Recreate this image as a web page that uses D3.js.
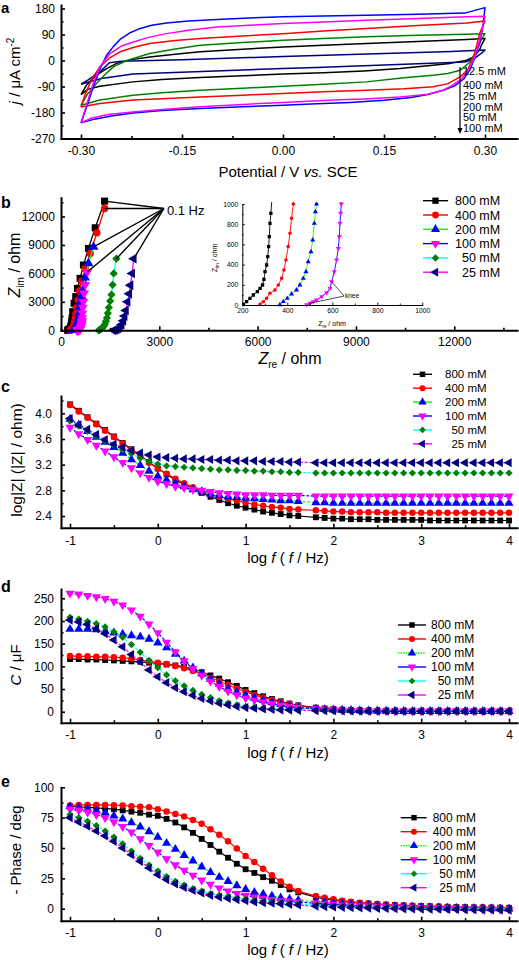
<!DOCTYPE html>
<html><head><meta charset="utf-8">
<script src="https://cdn.jsdelivr.net/npm/d3@7"></script>
<style>
body{margin:0;background:#fff}
svg{display:block}
</style></head><body>
<script>
// ================= DATA =================
// Panel a: cyclic voltammograms [potential V, j µA cm^-2], closed loops
const cvBlue = [[-0.300,-216],[-0.290,-150],[-0.280,-80],[-0.270,-20],[-0.262,18],[-0.252,48],[-0.242,73],[-0.228,95],[-0.212,111],[-0.195,122],[-0.173,130],[-0.140,137],[-0.098,142],[-0.050,147],[0.000,151],[0.060,154],[0.124,157],[0.200,160],[0.270,164],[0.300,183],
  [0.297,120],[0.292,60],[0.285,10],[0.277,-35],[0.268,-65],[0.255,-88],[0.238,-103],[0.215,-118],[0.190,-128],[0.150,-138],[0.100,-145],[0.050,-150],[0.000,-155],[-0.060,-160],[-0.123,-166],[-0.180,-173],[-0.223,-182],[-0.255,-192],[-0.280,-203],[-0.300,-216]];
const cvMagenta = [[-0.300,-216],[-0.290,-140],[-0.282,-80],[-0.272,-22],[-0.257,24],[-0.240,50],[-0.222,64],[-0.200,80],[-0.173,93],[-0.140,105],[-0.098,116],[-0.050,122],[0.000,128],[0.060,133],[0.124,139],[0.200,145],[0.273,151],[0.300,153],
  [0.296,110],[0.292,70],[0.285,15],[0.278,-22],[0.270,-50],[0.263,-68],[0.250,-88],[0.238,-103],[0.215,-117],[0.174,-126],[0.120,-133],[0.075,-137],[0.000,-145],[-0.060,-152],[-0.123,-160],[-0.180,-170],[-0.223,-178],[-0.260,-187],[-0.285,-200],[-0.300,-216]];
const cvRed = [[-0.300,-161],[-0.295,-125],[-0.287,-80],[-0.280,-50],[-0.272,-22],[-0.258,8],[-0.242,30],[-0.220,47],[-0.198,59],[-0.160,69],[-0.123,76],[-0.060,85],[0.000,93],[0.060,102],[0.124,111],[0.200,121],[0.273,130],[0.300,137],
  [0.296,115],[0.292,93],[0.288,55],[0.283,12],[0.275,-30],[0.263,-57],[0.245,-80],[0.223,-91],[0.180,-98],[0.124,-103],[0.060,-108],[0.000,-114],[-0.060,-120],[-0.123,-126],[-0.180,-132],[-0.223,-137],[-0.272,-149],[-0.300,-161]];
const cvGreen = [[-0.300,-155],[-0.290,-115],[-0.277,-80],[-0.265,-50],[-0.252,-22],[-0.232,0],[-0.198,24],[-0.160,40],[-0.123,53],[-0.060,62],[0.000,70],[0.060,76],[0.124,82],[0.200,87],[0.273,91],[0.300,93],
  [0.295,75],[0.292,59],[0.285,25],[0.278,-5],[0.263,-34],[0.245,-45],[0.223,-51],[0.180,-60],[0.124,-74],[0.060,-82],[0.000,-89],[-0.060,-96],[-0.123,-103],[-0.180,-112],[-0.223,-120],[-0.272,-137],[-0.300,-155]];
const cvBlack = [[-0.300,-118],[-0.292,-86],[-0.285,-68],[-0.277,-51],[-0.262,-28],[-0.247,-10],[-0.225,3],[-0.198,12],[-0.160,22],[-0.123,30],[-0.060,39],[0.000,47],[0.060,53],[0.124,59],[0.200,66],[0.273,73],[0.300,76],
  [0.295,55],[0.292,36],[0.283,12],[0.273,1],[0.248,-10],[0.200,-22],[0.174,-28],[0.120,-36],[0.060,-42],[0.000,-47],[-0.060,-53],[-0.123,-59],[-0.180,-66],[-0.223,-74],[-0.272,-89],[-0.290,-100],[-0.300,-118]];
const cvNavy = [[-0.300,-82],[-0.290,-68],[-0.280,-52],[-0.270,-35],[-0.258,-8],[-0.240,-3],[-0.150,3],[-0.050,10],[0.000,14],[0.050,17],[0.150,24],[0.250,31],[0.300,36],
  [0.292,20],[0.283,5],[0.270,-5],[0.200,-11],[0.150,-16],[0.050,-24],[0.000,-28],[-0.100,-36],[-0.223,-47],[-0.270,-62],[-0.300,-82]];
const cvLabels = ["12.5 mM","400 mM","25 mM","200 mM","50 mM","100 mM"];
const aXTicks = [-0.30,-0.15,0.00,0.15,0.30];
const aXTickLabels = ["-0.30","-0.15","0.00","0.15","0.30"];
const aXMinor = [-0.225,-0.075,0.075,0.225];
const aYTicks = [-270,-180,-90,0,90,180];
const aYTickLabels = ["-270","-180","-90","0","90","180"];
const aYMinor = [-225,-135,-45,45,135];

// Series meta (panels b–e)
const concLabels = ["800 mM","400 mM","200 mM","100 mM","50 mM","25 mM"];
const lineColors = ["#000000","#ff0000","#00ff00","#0000ff","#00ffff","#ff00ff"];
const markerColors = ["#000000","#ff0000","#0000ff","#ff00ff","#008000","#000080"];
const markerShapes = ["square","circle","up","down","diamond","left"];

// Panel b: Nyquist [Zre ohm, Zim ohm]
const b800 = [[205,5],[219,33],[234,66],[249,99],[267,132],[279,165],[290,198],[296,254],[301,330],[308,396],[313,479],[317,578],[320,677],[323,809],[327,908],[340,1300],[358,1965],[399,2842],[450,3544],[501,4421],[583,5474],[685,6877],[839,8631],[1044,10807],[1330,13614]];
const b400 = [[279,7],[293,33],[308,66],[323,116],[345,149],[360,198],[375,264],[385,347],[394,446],[404,578],[412,710],[419,858],[427,1000],[440,1300],[455,1750],[481,2400],[520,3190],[562,4140],[635,5190],[737,6520],[890,8100],[1096,10280],[1330,12840]];
const b200 = [[367,3],[382,33],[400,66],[419,109],[441,149],[456,198],[471,264],[483,330],[493,429],[505,528],[513,644],[520,809],[525,924],[530,1000],[540,1300],[555,1800],[575,2500],[595,3000],[630,3600],[665,4240],[737,5540],[838,7050],[992,8800]];
const b100 = [[486,3],[501,17],[515,33],[530,50],[553,83],[575,122],[590,165],[597,231],[609,330],[619,446],[627,561],[631,677],[634,809],[637,908],[640,1000],[645,1300],[655,1800],[665,2400],[680,3000],[705,3900],[740,4800],[808,6170]];
const b50 = [[1150,0],[1180,50],[1220,130],[1260,250],[1300,420],[1340,650],[1370,950],[1400,1300],[1430,1800],[1460,2400],[1500,3100],[1540,3750],[1575,4800],[1610,6000],[1690,7550]];
const b25 = [[1600,0],[1650,40],[1700,100],[1750,200],[1800,350],[1850,600],[1900,1000],[1940,1500],[1980,2100],[2030,3000],[2080,3850],[2120,4750],[2170,6000],[2220,7550]];
const bTicks = [0,3000,6000,9000,12000];
const bTickLabels = ["0","3000","6000","9000","12000"];
const bMinor = [1500,4500,7500,10500,13500];
const insetXTicks = [200,400,600,800,1000];
const insetXLabels = ["200","400","600","800","1000"];
const insetXMinor = [300,500,700,900];
const insetYTicks = [0,200,400,600,800,1000];
const insetYLabels = ["0","200","400","600","800","1000"];
const insetYMinor = [100,300,500,700,900];
const hzAnchor = [3140,12840];
const kneeAnchor = [652,89];
const kneePoints = [[597,231],[501,17]];

// Panels c–e: log f axis
const logF = [-1.0,-0.9,-0.8,-0.7,-0.6,-0.5,-0.4,-0.3,-0.2,-0.1,0.0,0.1,0.2,0.3,0.4,0.5,0.6,0.7,0.8,0.9,1.0,1.1,1.2,1.3,1.4,1.5,1.6,1.8,1.9,2.0,2.1,2.2,2.3,2.4,2.5,2.6,2.7,2.8,2.9,3.0,3.1,3.2,3.3,3.4,3.5,3.6,3.7,3.8,3.9,4.0];
const fTicks = [-1,0,1,2,3,4];
const fTickLabels = ["-1","0","1","2","3","4"];
const fMinor = [-0.5,0.5,1.5,2.5,3.5];

// Panel c: log|Z|
const logZ800 = [4.14,4.04,3.94,3.84,3.74,3.64,3.54,3.44,3.34,3.24,3.14,3.05,2.96,2.89,2.82,2.76,2.70,2.65,2.60,2.56,2.53,2.50,2.47,2.45,2.43,2.41,2.40,2.38,2.37,2.36,2.36,2.35,2.35,2.35,2.34,2.34,2.34,2.34,2.34,2.34,2.33,2.33,2.33,2.33,2.33,2.33,2.33,2.33,2.33,2.33];
const logZ400 = [4.13,4.03,3.93,3.83,3.73,3.63,3.53,3.43,3.33,3.23,3.14,3.06,2.98,2.91,2.85,2.79,2.74,2.70,2.67,2.64,2.61,2.58,2.56,2.54,2.53,2.51,2.50,2.49,2.48,2.47,2.47,2.46,2.46,2.46,2.46,2.45,2.45,2.45,2.45,2.45,2.45,2.45,2.45,2.45,2.45,2.45,2.45,2.45,2.45,2.45];
const logZ200 = [3.91,3.82,3.72,3.63,3.55,3.47,3.38,3.28,3.19,3.10,3.02,2.96,2.91,2.86,2.81,2.78,2.74,2.72,2.70,2.69,2.68,2.67,2.66,2.65,2.64,2.64,2.63,2.61,2.61,2.60,2.60,2.60,2.60,2.60,2.60,2.60,2.60,2.60,2.60,2.60,2.60,2.60,2.60,2.60,2.60,2.60,2.60,2.60,2.60,2.60];
const logZ100 = [3.78,3.68,3.59,3.50,3.41,3.32,3.23,3.15,3.07,3.00,2.94,2.90,2.86,2.84,2.81,2.80,2.78,2.76,2.75,2.74,2.73,2.73,2.73,2.72,2.72,2.72,2.72,2.71,2.71,2.71,2.71,2.71,2.71,2.71,2.71,2.71,2.71,2.71,2.71,2.71,2.71,2.71,2.71,2.71,2.71,2.71,2.71,2.71,2.71,2.71];
const logZ50 = [3.88,3.80,3.72,3.64,3.56,3.50,3.43,3.37,3.30,3.25,3.21,3.18,3.17,3.16,3.15,3.14,3.13,3.12,3.12,3.11,3.11,3.10,3.10,3.09,3.09,3.08,3.08,3.07,3.07,3.07,3.07,3.07,3.07,3.07,3.07,3.07,3.07,3.07,3.07,3.07,3.07,3.07,3.07,3.07,3.07,3.07,3.07,3.07,3.07,3.07];
const logZ25 = [3.92,3.82,3.75,3.67,3.59,3.52,3.47,3.42,3.38,3.35,3.32,3.31,3.30,3.29,3.29,3.28,3.28,3.27,3.27,3.26,3.26,3.26,3.25,3.25,3.25,3.24,3.24,3.23,3.23,3.23,3.23,3.23,3.23,3.23,3.23,3.23,3.23,3.23,3.23,3.23,3.23,3.23,3.23,3.23,3.23,3.23,3.23,3.23,3.23,3.23];
const cTicks = [2.4,2.8,3.2,3.6,4.0];
const cTickLabels = ["2.4","2.8","3.2","3.6","4.0"];
const cMinor = [2.6,3.0,3.4,3.8,4.2];

// Panel d: C / µF
const cap800 = [116,116,115,115,114,113,112,111,110,108,106,104,102,99,94,87,80,73,65,57,48,41,34,28,23,18,14,9,7,5.5,4.5,3.5,3,2.5,2,2,1.5,1.5,1,1,1,1,1,1,1,1,1,1,1,1];
const cap400 = [123,122,122,121,121,120,119,117,114,111,108,105,101,96,90,83,75,67,59,51,44,37,31,26,21,17,13,8,6.5,5,4,3.5,3,2.5,2,2,1.5,1.5,1,1,1,1,1,1,1,1,1,1,1,1];
const cap200 = [182,182,182,181,177,174,171,168,165,160,152,141,127,112,97,84,72,61,51,43,36,30,25,20,16,13,10,6,5,4,3.5,3,2.5,2,2,1.5,1.5,1,1,1,1,1,1,1,1,1,1,1,1,1];
const cap100 = [261,259,256,253,249,243,235,224,210,193,174,153,132,112,95,80,67,55,45,37,30,25,21,17,14,11,9,6,5,4,3,2.5,2,2,1.5,1.5,1,1,1,1,1,1,1,1,1,1,1,1,1,1];
const cap50 = [208,204,199,194,187,176,164,148,131,113,97,81,68,57,47,38,31,24,19,15,12,10,8,6.5,5.5,4.5,4,3,2.5,2,2,1.5,1.5,1,1,1,1,1,1,1,1,1,1,1,1,1,1,1,1,1];
const cap25 = [202,198,192,183,172,158,143,126,110,92,77,64,53,44,36,29,23.5,18.5,15,11.5,9,7.5,6,5,4,3.5,3,2.5,2,2,1.5,1.5,1,1,1,1,1,1,1,1,1,1,1,1,1,1,1,1,1,1];
const dTicks = [0,50,100,150,200,250];
const dTickLabels = ["0","50","100","150","200","250"];
const dMinor = [25,75,125,175,225];

// Panel e: -Phase / deg
const ph800 = [84.5,84,83.5,83,82.5,82,81,80,79,77.5,76.5,74,71,67,62.5,57.5,52.5,47,42,37,32.5,29.5,26,23,19.5,16,13.5,9.5,8,7,6,5.3,4.7,4.2,3.7,3.3,3,2.7,2.4,2.2,2,1.8,1.6,1.4,1.2,1.1,1,0.9,0.8,0.7];
const ph400 = [85,85.5,85.5,85.5,85.5,85.3,85,84.5,84,83.5,82,80,78,76,73,70,65.5,61,55.5,49.5,43.5,38.5,33,27.5,22.5,18,14.5,10.5,9,7.7,6.6,5.8,5,4.4,3.9,3.4,3,2.7,2.4,2.1,1.9,1.7,1.5,1.3,1.2,1.1,1,0.9,0.8,0.7];
const ph200 = [84,83,82,80.5,79,76.5,74,71,67.5,63.5,59,54,49,44,39.5,34.5,30,26,22.5,19,16,13.5,12,10.5,9,8,7,5.5,5,4.5,4,3.5,3,2.7,2.4,2.1,1.8,1.5,1.3,1.1,1,0.8,0.6,0.5,0.4,0.3,0.2,0.1,0,-0.2];
const ph100 = [82,81,79.5,77.5,75,71.5,67.5,63,57.5,52,46.5,41,36,31.5,27.5,23.5,20,17,14.5,12.5,11,9.5,8.5,7.5,6.5,6,5.5,4.5,4,3.5,3,2.7,2.4,2.1,1.8,1.5,1.3,1.1,1,0.8,0.6,0.5,0.4,0.2,0,-0.2,-0.4,-0.5,-0.6,-0.7];
const ph50 = [77.5,75,72,68.5,64,59,53.5,47.5,41.5,36,31,26.5,22.5,19.5,16.5,14.5,12.5,11,10,9,8,7,6.5,6,5,4.5,4,3,2.6,2.3,2,1.8,1.5,1.3,1.1,1,0.8,0.6,0.5,0.3,0.2,0.1,0,-0.1,-0.2,-0.3,-0.4,-0.5,-0.6,-0.7];
const ph25 = [75,71.5,68,64,60,55.5,50,44.5,39,33.5,28,24,20.5,17.5,15,13,11,9.5,8.5,7.5,6.5,5.5,5,4.5,4,3.5,3,2,1.7,1.4,1.1,0.9,0.7,0.5,0.3,0.2,0,-0.1,-0.2,-0.3,-0.4,-0.5,-0.6,-0.7,-0.8,-0.9,-1,-1,-1.1,-1.2];
const eTicks = [0,25,50,75,100];
const eTickLabels = ["0","25","50","75","100"];
const eMinor = [12.5,37.5,62.5,87.5];

// ================= DRAWING =================
const FONT = '"Liberation Sans", Arial, Helvetica, sans-serif';
const svg = d3.select("body").append("svg").attr("width",519).attr("height",960)
  .style("font-family",FONT);
svg.append("rect").attr("width",519).attr("height",960).attr("fill","#fff");

function symPath(shape, area){
  let type=d3.symbolSquare, rot=0;
  if(shape==="circle") type=d3.symbolCircle;
  else if(shape==="up") type=d3.symbolTriangle;
  else if(shape==="down"){type=d3.symbolTriangle; rot=180;}
  else if(shape==="left"){type=d3.symbolTriangle; rot=-90;}
  else if(shape==="diamond"){type=d3.symbolSquare; rot=45;}
  return {d:d3.symbol().type(type).size(area)(), rot};
}
function addMarkers(g, pts, fx, fy, shape, area, color){
  const s = symPath(shape, area);
  g.selectAll(null).data(pts).join("path").attr("d",s.d)
    .attr("transform",p=>`translate(${fx(p)},${fy(p)}) rotate(${s.rot})`)
    .attr("fill",color);
}
function drawAxes(g, x, y, o){
  const yb = y.range()[0];
  const fs = o.fs||12;
  const mk = (axis, vals, labels, len, pad) => axis.tickValues(vals)
    .tickFormat(labels ? ((d,i)=>labels[i]) : (()=>"")).tickSizeInner(-len).tickSizeOuter(0).tickPadding(pad);
  const gxm = g.append("g").attr("transform",`translate(0,${yb})`).call(mk(d3.axisBottom(x),o.xMinor,null,o.minor||2.5,0));
  gxm.select(".domain").remove();
  const gym = g.append("g").attr("transform",`translate(${x.range()[0]},0)`).call(mk(d3.axisLeft(y),o.yMinor,null,o.minor||2.5,0));
  gym.select(".domain").remove();
  const gx = g.append("g").attr("transform",`translate(0,${yb})`).call(mk(d3.axisBottom(x),o.xTicks,o.xLabels,o.major||4,o.padX||8));
  const gy = g.append("g").attr("transform",`translate(${x.range()[0]},0)`).call(mk(d3.axisLeft(y),o.yTicks,o.yLabels,o.major||4,o.padY||7));
  [gxm,gym,gx,gy].forEach(a=>{
    a.attr("font-family",FONT).attr("font-size",fs);
    a.selectAll(".tick line").attr("stroke","#000").attr("stroke-width",o.tw||1.6);
    a.selectAll("text").attr("fill","#000");
    a.selectAll(".domain").attr("stroke","#000").attr("stroke-width",o.lw||2).attr("stroke-linecap","square");
  });
}
function panelLetter(t,x,y,fs){
  svg.append("text").attr("x",x).attr("y",y).attr("font-size",fs||16).attr("font-weight","bold").text(t);
}
function drawLegend(g, c){
  concLabels.forEach((lab,i)=>{
    const y = c.y0 + i*c.dy;
    g.append("line").attr("x1",c.x1).attr("x2",c.x2).attr("y1",y).attr("y2",y)
      .attr("stroke",lineColors[i]).attr("stroke-width",1.4)
      .attr("stroke-dasharray",(c.dash && c.dash[i])||null);
    addMarkers(g,[0],()=>c.xm,()=>y,markerShapes[i],c.areas[markerShapes[i]],markerColors[i]);
    const num = lab.split(" ")[0];
    const pad = (3-num.length)*0.556*c.fs;
    g.append("text").attr("x",c.xt+pad).attr("y",y).attr("dy","0.36em").attr("font-size",c.fs).text(lab);
  });
}
function xTitleLogF(y){
  const t = svg.append("text").attr("x",288).attr("y",y).attr("text-anchor","middle").attr("font-size",15);
  t.append("tspan").text("log ");
  t.append("tspan").attr("font-style","italic").text("f");
  t.append("tspan").text(" ( ");
  t.append("tspan").attr("font-style","italic").text("f");
  t.append("tspan").text(" / Hz)");
}
function yTitle(x,y){
  return svg.append("text").attr("transform",`translate(${x},${y}) rotate(-90)`).attr("text-anchor","middle").attr("font-size",15);
}

// ---------- Panel a ----------
{
  const g = svg.append("g");
  const x = d3.scaleLinear().domain([-0.32970,0.34753]).range([61,517]);
  const y = d3.scaleLinear().domain([-270,192.1]).range([138.5,5]);
  const line = d3.line().x(d=>x(d[0])).y(d=>y(d[1]));
  const curves = [[cvBlack,"#000000"],[cvNavy,"#000080"],[cvGreen,"#008000"],[cvRed,"#ff0000"],[cvBlue,"#0000ff"],[cvMagenta,"#ff00ff"]];
  curves.forEach(([d,c])=>g.append("path").attr("d",line(d)).attr("fill","none").attr("stroke",c).attr("stroke-width",1.5).attr("stroke-linejoin","round"));
  drawAxes(g,x,y,{xTicks:aXTicks,xLabels:aXTickLabels,xMinor:aXMinor,yTicks:aYTicks,yLabels:aYTickLabels,yMinor:aYMinor,padX:8,padY:6});
  const lys = [71.5,85.3,96,107,117.5,128.5];
  cvLabels.forEach((l,i)=>g.append("text").attr("x",463).attr("y",lys[i]).attr("dy","0.36em").attr("font-size",11).text(l));
  g.append("line").attr("x1",460).attr("x2",460).attr("y1",67).attr("y2",130).attr("stroke","#000").attr("stroke-width",1.2);
  g.append("path").attr("d","M457.5,128 L462.5,128 L460,134 Z").attr("fill","#000");
  const t = svg.append("text").attr("x",288).attr("y",177).attr("text-anchor","middle").attr("font-size",15);
  t.append("tspan").text("Potential / V ");
  t.append("tspan").attr("font-style","italic").text("vs.");
  t.append("tspan").text(" SCE");
  const yt = yTitle(20,71);
  yt.append("tspan").attr("font-style","italic").text("j");
  yt.append("tspan").text(" / \u03bcA cm");
  yt.append("tspan").attr("dy",-6).attr("font-size",10).text("-2");
  panelLetter("a",1,13,15);
}

// ---------- Panel b ----------
const bSeries = [b800,b400,b200,b100,b50,b25];
{
  const g = svg.append("g");
  const x = d3.scaleLinear().domain([0,13915]).range([61,517]);
  const y = d3.scaleLinear().domain([0,13979]).range([330.3,197.7]);
  const line = d3.line().x(d=>x(d[0])).y(d=>y(d[1]));
  const areasB = {square:50,circle:42,up:42,down:42,diamond:34,left:42};
  bSeries.forEach((s,i)=>{
    g.append("path").attr("d",line(s)).attr("fill","none").attr("stroke",lineColors[i]).attr("stroke-width",1.3);
    addMarkers(g,s,p=>x(p[0]),p=>y(p[1]),markerShapes[i],areasB[markerShapes[i]],markerColors[i]);
  });
  bSeries.forEach(s=>{
    const last = s[s.length-1];
    g.append("line").attr("x1",x(hzAnchor[0])).attr("y1",y(hzAnchor[1])).attr("x2",x(last[0])).attr("y2",y(last[1]))
      .attr("stroke","#000").attr("stroke-width",1.4);
  });
  g.append("text").attr("x",x(hzAnchor[0])+3).attr("y",y(hzAnchor[1])).attr("dy","0.5em").attr("font-size",13).text("0.1 Hz");
  drawAxes(g,x,y,{xTicks:bTicks,xLabels:bTickLabels,xMinor:bMinor,yTicks:bTicks,yLabels:bTickLabels,yMinor:bMinor,padX:7,padY:6});
  // inset
  const xi = d3.scaleLinear().domain([200,1000]).range([242.3,422.3]);
  const yi = d3.scaleLinear().domain([0,1000]).range([305,204]);
  svg.append("clipPath").attr("id","insetClip").append("rect").attr("x",242.3).attr("y",202).attr("width",182).attr("height",105);
  const gi = g.append("g").attr("clip-path","url(#insetClip)");
  const li = d3.line().x(d=>xi(d[0])).y(d=>yi(d[1]));
  const areasI = {square:11,circle:10,up:11,down:11,diamond:9,left:11};
  bSeries.forEach((s,i)=>{
    gi.append("path").attr("d",li(s)).attr("fill","none").attr("stroke",lineColors[i]).attr("stroke-width",0.9);
    addMarkers(gi,s,p=>xi(p[0]),p=>yi(p[1]),markerShapes[i],areasI[markerShapes[i]],markerColors[i]);
  });
  const ga = g.append("g");
  drawAxes(ga,xi,yi,{xTicks:insetXTicks,xLabels:insetXLabels,xMinor:insetXMinor,yTicks:insetYTicks,yLabels:insetYLabels,yMinor:insetYMinor,fs:6.8,padX:3,padY:4,major:2.5,minor:1.5,lw:1,tw:0.9});
  kneePoints.forEach(p=>g.append("line").attr("x1",xi(kneeAnchor[0])).attr("y1",yi(kneeAnchor[1])).attr("x2",xi(p[0])).attr("y2",yi(p[1])).attr("stroke","#000").attr("stroke-width",0.7));
  g.append("text").attr("x",xi(kneeAnchor[0])+1).attr("y",yi(kneeAnchor[1])).attr("dy","0.35em").attr("font-size",6.5).text("knee");
  const it = svg.append("text").attr("x",332).attr("y",326).attr("text-anchor","middle").attr("font-size",7);
  it.append("tspan").text("Z");
  it.append("tspan").attr("dy",1.5).attr("font-size",4.5).text("re");
  it.append("tspan").attr("dy",-1.5).text(" / ohm");
  const iy = svg.append("text").attr("transform","translate(217,258) rotate(-90)").attr("text-anchor","middle").attr("font-size",7);
  iy.append("tspan").text("Z");
  iy.append("tspan").attr("dy",1.5).attr("font-size",4.5).text("im");
  iy.append("tspan").attr("dy",-1.5).text(" / ohm");
  drawLegend(g,{x1:423,x2:448,xm:435.5,xt:455,y0:200.7,dy:14.3,fs:12.5,areas:{square:40,circle:36,up:36,down:36,diamond:28,left:36}});
  const xt = svg.append("text").attr("x",290).attr("y",364).attr("text-anchor","middle").attr("font-size",16);
  xt.append("tspan").attr("font-style","italic").text("Z");
  xt.append("tspan").attr("dy",4).attr("font-size",10).text("re");
  xt.append("tspan").attr("dy",-4).text(" / ohm");
  const yt = yTitle(20,265).attr("font-size",16);
  yt.append("tspan").attr("font-style","italic").text("Z");
  yt.append("tspan").attr("dy",4).attr("font-size",10).text("im");
  yt.append("tspan").attr("dy",-4).text(" / ohm");
  panelLetter("b",1,207.5);
}

// ---------- Panels c, d, e ----------
const xF = d3.scaleLinear().domain([-1.1025,4.0911]).range([61,517]);
const areasF = {square:34,circle:33,up:36,down:36,diamond:26,left:36};
const dashF = [null,null,"3,1.6","3,1.6","3,1.6","3,1.6"];
function freqPanel(series, y, o){
  const g = svg.append("g");
  series.forEach((vals,i)=>{
    const pts = logF.map((f,k)=>[f,vals[k]]);
    g.append("path").attr("d",d3.line().x(d=>xF(d[0])).y(d=>y(d[1]))(pts))
      .attr("fill","none").attr("stroke",lineColors[i]).attr("stroke-width",1.2).attr("stroke-dasharray",dashF[i]);
    addMarkers(g,pts,p=>xF(p[0]),p=>y(p[1]),markerShapes[i],areasF[markerShapes[i]],markerColors[i]);
  });
  drawAxes(g,xF,y,{xTicks:fTicks,xLabels:fTickLabels,xMinor:fMinor,yTicks:o.yTicks,yLabels:o.yLabels,yMinor:o.yMinor,padX:o.padX,padY:o.padY});
  drawLegend(g,o.legend);
  return g;
}
// c
freqPanel([logZ800,logZ400,logZ200,logZ100,logZ50,logZ25],
  d3.scaleLinear().domain([2.218,4.27]).range([527.7,396]),
  {yTicks:cTicks,yLabels:cTickLabels,yMinor:cMinor,padX:9,padY:9,
   legend:{x1:413,x2:432,xm:422.5,xt:445,y0:374.3,dy:13.9,fs:11.5,areas:{square:30,circle:28,up:30,down:30,diamond:22,left:30}}});
xTitleLogF(563);
{ const yt = yTitle(22,460).attr("font-size",15.5);
  yt.text("log|Z| (|Z| / ohm)"); }
panelLetter("c",1,391.5);
// d
freqPanel([cap800,cap400,cap200,cap100,cap50,cap25],
  d3.scaleLinear().domain([-24.25,270.5]).range([722.7,589]),
  {yTicks:dTicks,yLabels:dTickLabels,yMinor:dMinor,padX:8,padY:7,
   legend:{x1:398,x2:426,xm:412,xt:431,y0:625,dy:14,fs:12,dash:[null,null,"1.5,1",null,null,null],areas:{square:30,circle:28,up:30,down:30,diamond:22,left:30}}});
xTitleLogF(758);
{ const yt = yTitle(21,665);
  yt.append("tspan").attr("font-style","italic").text("C");
  yt.append("tspan").text(" / \u03bcF"); }
panelLetter("d",1,591.5);
// e
freqPanel([ph800,ph400,ph200,ph100,ph50,ph25],
  d3.scaleLinear().domain([-9.88,100]).range([920.7,787.3]),
  {yTicks:eTicks,yLabels:eTickLabels,yMinor:eMinor,padX:8,padY:7,
   legend:{x1:400.7,x2:426.7,xm:414,xt:432.7,y0:817.7,dy:14,fs:12,dash:[null,null,"1.5,1",null,null,null],areas:{square:30,circle:28,up:30,down:30,diamond:22,left:30}}});
xTitleLogF(955);
{ const yt = yTitle(21,850); yt.text("- Phase / deg"); }
panelLetter("e",1,786.5);
</script>
</body></html>
